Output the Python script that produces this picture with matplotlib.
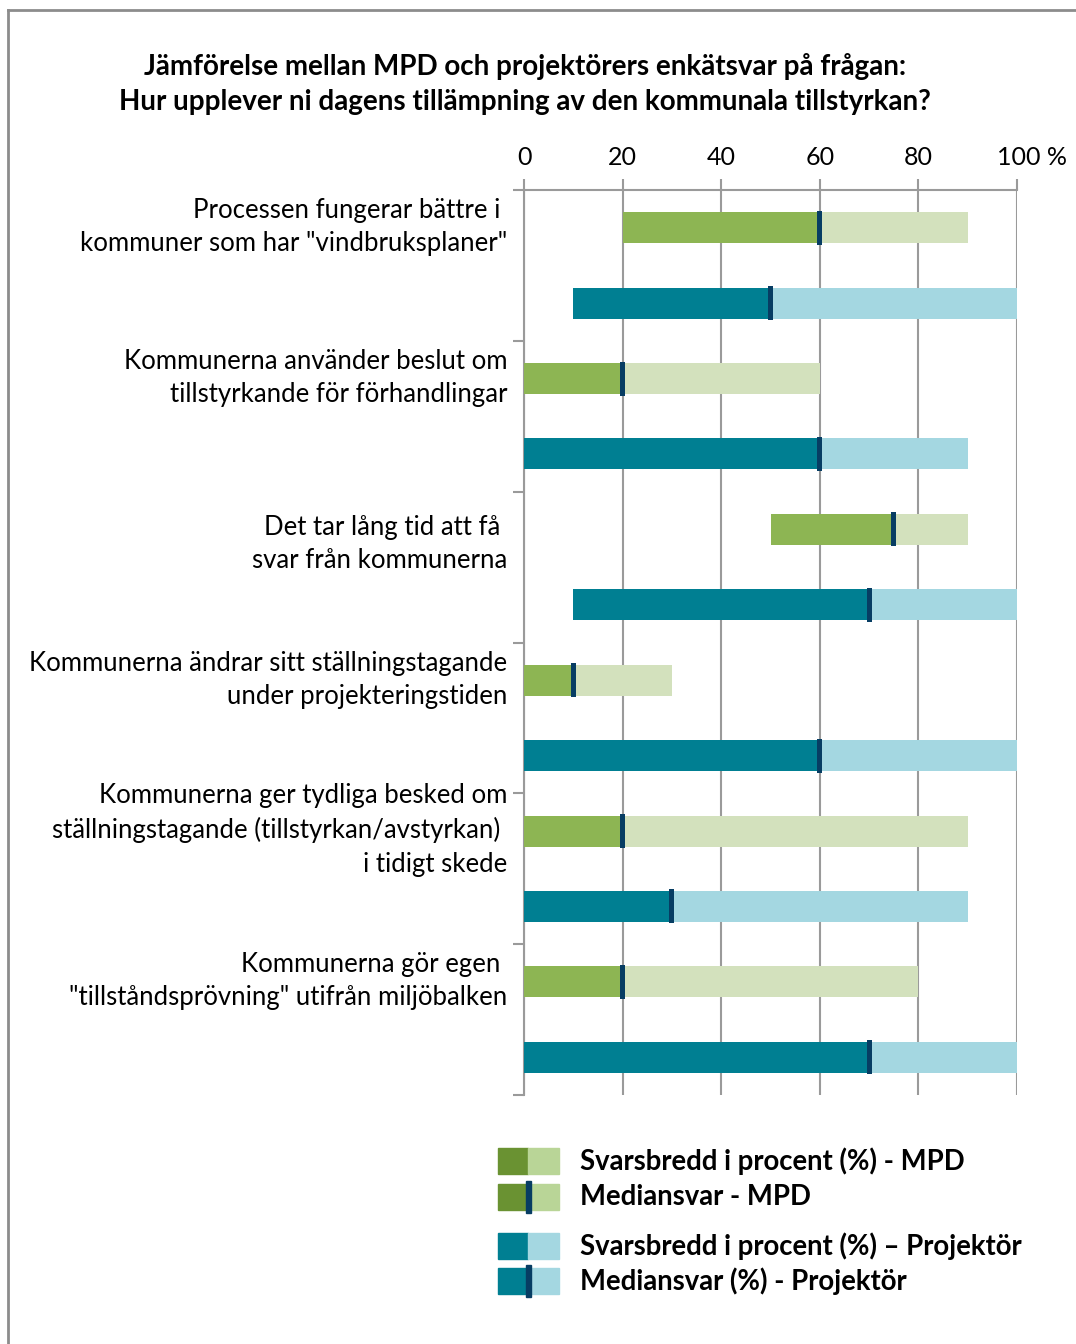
import matplotlib
matplotlib.use("Agg")
import matplotlib.pyplot as plt
from matplotlib.patches import Rectangle
from matplotlib.lines import Line2D
from matplotlib.transforms import ScaledTranslation

categories = [
    "Processen fungerar bättre i \nkommuner som har \"vindbruksplaner\"",
    "Kommunerna använder beslut om\ntillstyrkande för förhandlingar",
    "Det tar lång tid att få \nsvar från kommunerna",
    "Kommunerna ändrar sitt ställningstagande\nunder projekteringstiden",
    "Kommunerna ger tydliga besked om\nställningstagande (tillstyrkan/avstyrkan) \ni tidigt skede",
    "Kommunerna gör egen \n\"tillståndsprövning\" utifrån miljöbalken",
]
mpd_min = [20, 0, 50, 0, 0, 0]
mpd_median = [60, 20, 75, 10, 20, 20]
mpd_max = [90, 60, 90, 30, 90, 80]
proj_min = [10, 0, 10, 0, 0, 0]
proj_median = [50, 60, 70, 60, 30, 70]
proj_max = [100, 90, 100, 100, 90, 100]
xticks = [0, 20, 40, 60, 80, 100]
xticklabels = ["0", "20", "40", "60", "80", "100 %"]
title = ("Jämförelse mellan MPD och projektörers enkätsvar på frågan:\n"
         "Hur upplever ni dagens tillämpning av den kommunala tillstyrkan?")
legend_labels = ["Svarsbredd i procent (%) - MPD", "Mediansvar - MPD",
                 "Svarsbredd i procent (%) – Projektör", "Mediansvar (%) - Projektör"]

plt.rcParams['font.family'] = ['Lato', 'DejaVu Sans']

C_MPD_D = "#8DB553"
C_MPD_L = "#D3E1BD"
C_PRJ_D = "#007F92"
C_PRJ_L = "#A4D7E1"
C_LEG_MPD_D = "#6A9232"
C_LEG_MPD_L = "#B9D597"
C_MED = "#073D63"
C_GRID = "#9A9A9A"

W, H = 1076, 1344
fig = plt.figure(figsize=(W / 100, H / 100), dpi=100)

def fx(px):
    return px / W

def fy(py):
    return 1 - py / H

ax = fig.add_axes([fx(524), fy(1095), fx(1017) - fx(524), fy(190) - fy(1095)])

n = len(categories)
bh = 0.41
mh = 0.45
for i in range(n):
    ym = 2 * i + 0.5
    yp = 2 * i + 1.5
    ax.barh(ym, mpd_median[i] - mpd_min[i], left=mpd_min[i], height=bh, color=C_MPD_D, zorder=3)
    ax.barh(ym, mpd_max[i] - mpd_median[i], left=mpd_median[i], height=bh, color=C_MPD_L, zorder=3)
    ax.barh(ym, 1.0, left=mpd_median[i] - 0.5, height=mh, color=C_MED, zorder=4)
    ax.barh(yp, proj_median[i] - proj_min[i], left=proj_min[i], height=bh, color=C_PRJ_D, zorder=3)
    ax.barh(yp, proj_max[i] - proj_median[i], left=proj_median[i], height=bh, color=C_PRJ_L, zorder=3)
    ax.barh(yp, 1.0, left=proj_median[i] - 0.5, height=mh, color=C_MED, zorder=4)

ax.set_xlim(0, 100)
ax.set_ylim(2 * n, 0)
ax.xaxis.tick_top()
ax.set_xticks(xticks)
ax.set_xticklabels(xticklabels, fontsize=18)
ax.tick_params(axis='x', direction='out', length=8, width=1.5, color=C_GRID, pad=7)
# shift the last label so that the number itself is centred on its tick
last = ax.get_xticklabels()[-1]
last.set_transform(last.get_transform() + ScaledTranslation(15 / 100, 0, fig.dpi_scale_trans))
ax.set_yticks([2 * i for i in range(n + 1)])
ax.set_yticklabels([])
ax.tick_params(axis='y', direction='out', length=8, width=1.5, color=C_GRID)
ax.grid(axis='x', color=C_GRID, linewidth=1.5, zorder=0)
ax.set_axisbelow(True)
for s in ['right', 'bottom']:
    ax.spines[s].set_visible(False)
for s in ['left', 'top']:
    ax.spines[s].set_color(C_GRID)
    ax.spines[s].set_linewidth(1.5)

# category labels
label_px = [227, 378, 544, 680, 830, 981]
for lab, py in zip(categories, label_px):
    fig.text(fx(507), fy(py), lab, ha='right', va='center', fontsize=18.5,
             linespacing=1.42, color='black')

fig.text(fx(525), fy(84), title, ha='center', va='center', fontsize=20,
         fontweight='bold', linespacing=1.42)

# legend
rows = [1161, 1197, 1246, 1281]
cols = [(C_LEG_MPD_D, C_LEG_MPD_L), (C_LEG_MPD_D, C_LEG_MPD_L), (C_PRJ_D, C_PRJ_L), (C_PRJ_D, C_PRJ_L)]
median_row = [False, True, False, True]
for py, (cd, cl), med, lab in zip(rows, cols, median_row, legend_labels):
    ph = 26
    fig.add_artist(Rectangle((fx(498), fy(py + ph / 2)), fx(30), ph / H, color=cd, transform=fig.transFigure))
    fig.add_artist(Rectangle((fx(528), fy(py + ph / 2)), fx(31), ph / H, color=cl, transform=fig.transFigure))
    if med:
        fig.add_artist(Rectangle((fx(526), fy(py + 16)), fx(5), 32 / H, color=C_MED, transform=fig.transFigure))
    fig.text(fx(580), fy(py), lab, ha='left', va='center', fontsize=19.8, fontweight='bold')

# outer frame
fig.add_artist(Line2D([fx(8), fx(8)], [fy(10), 0], color="#8C8C8C", linewidth=2, transform=fig.transFigure))
fig.add_artist(Line2D([fx(8), 1], [fy(10), fy(10)], color="#8C8C8C", linewidth=2, transform=fig.transFigure))

fig.savefig("out.png", dpi=100)
